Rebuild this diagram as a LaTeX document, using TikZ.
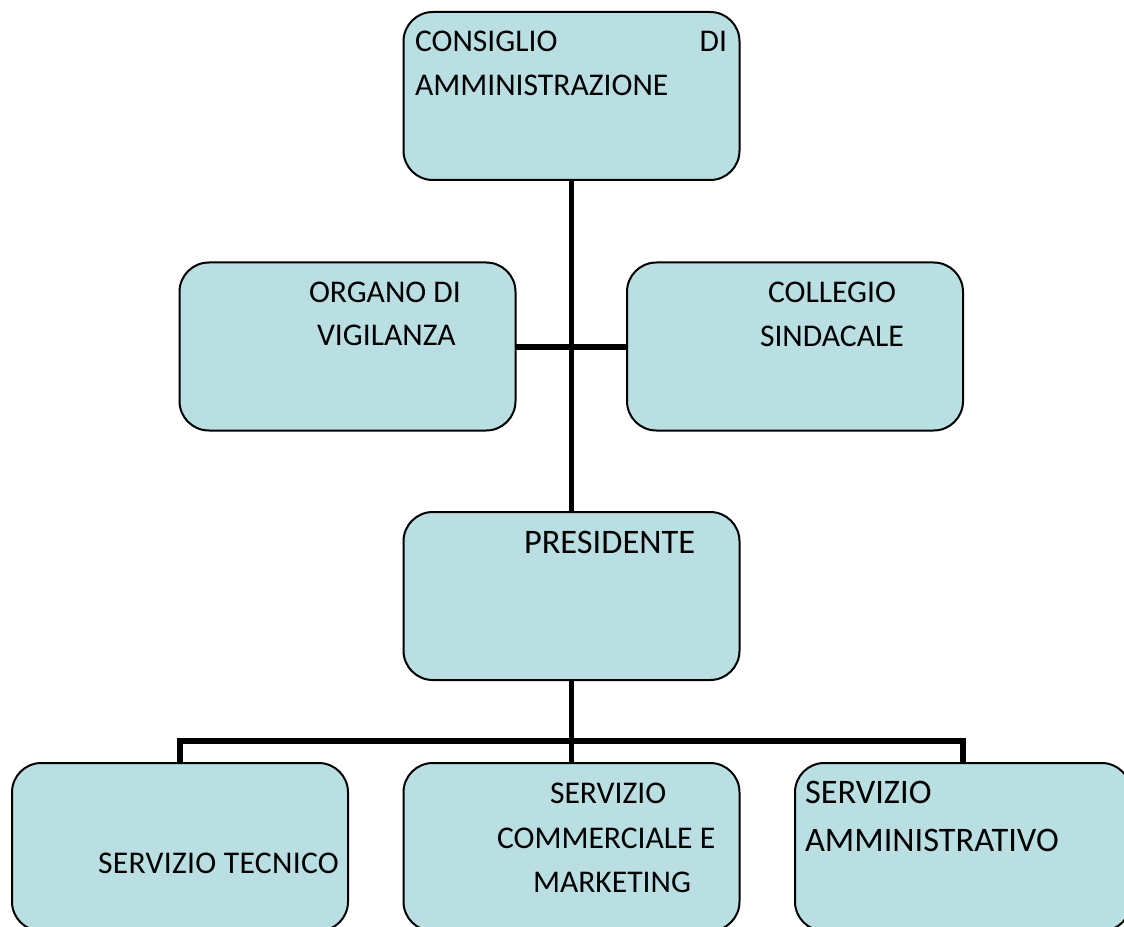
\documentclass[tikz,border=0pt]{standalone}
\usepackage{fontspec}
\setmainfont{Carlito}
\definecolor{boxfill}{HTML}{B9DFE3}
\begin{document}
\begin{tikzpicture}[x=0.75pt,y=-0.75pt,
  box/.style={draw=black,line width=1.5pt,fill=boxfill,rounded corners=22pt,
    minimum width=252pt,minimum height=126pt,inner sep=0pt,outer sep=0pt},
  conn/.style={draw=black,line width=3.8pt},
  lbl/.style={inner sep=0pt,outer sep=0pt,anchor=base west,font=\fontsize{23.7pt}{28pt}\selectfont},
  biglbl/.style={lbl,font=\fontsize{25.8pt}{30pt}\selectfont}]
\useasboundingbox (0,0) rectangle (1124,927);
\clip (0,0) rectangle (1124,927);

% connector junctions and ends
\coordinate (bus) at (571.5,741);
\coordinate (cdaS) at (571.5,180);
\coordinate (presN) at (571.5,512);
\coordinate (presS) at (571.5,680);
\coordinate (orgE) at (515,347);
\coordinate (colW) at (627,347);
\coordinate (tecN) at (180,763);
\coordinate (comN) at (571.5,763);
\coordinate (ammN) at (963,763);
\draw[conn] (cdaS) -- (presN);
\draw[conn] (orgE) -- (colW);
\draw[conn] (presS) -- (comN);
\draw[conn] (tecN) |- (bus) -| (ammN);

% boxes
\node[box] (cda) at (571.5,96) {};
\node[box] (org) at (347.5,346.5) {};
\node[box] (col) at (795,346.5) {};
\node[box] (pres) at (571.5,596) {};
\node[box] (tec) at (180,847) {};
\node[box] (com) at (571.5,847) {};
\node[box] (amm) at (963,847) {};

% labels
\node[lbl] (t1) at (415,52) {CONSIGLIO};
\node[lbl,anchor=base east] (t2) at (727,52) {DI};
\node[lbl] (t3) at (415,96) {AMMINISTRAZIONE};
\node[lbl] (t4) at (309,302) {ORGANO DI};
\node[lbl] (t5) at (317,345) {VIGILANZA};
\node[lbl] (t6) at (768,302) {COLLEGIO};
\node[lbl] (t7) at (760,346) {SINDACALE};
\node[biglbl] (t8) at (524,553) {PRESIDENTE};
\node[lbl] (t9) at (98,873) {\addfontfeature{LetterSpace=1}SERVIZIO TECNICO};
\node[lbl] (t10) at (550,803) {SERVIZIO};
\node[lbl] (t11) at (497,848) {COMMERCIALE E};
\node[lbl] (t12) at (533,892) {MARKETING};
\node[biglbl] (t13) at (805,803) {SERVIZIO};
\node[biglbl] (t14) at (805,851) {AMMINISTRATIVO};
\end{tikzpicture}
\end{document}
